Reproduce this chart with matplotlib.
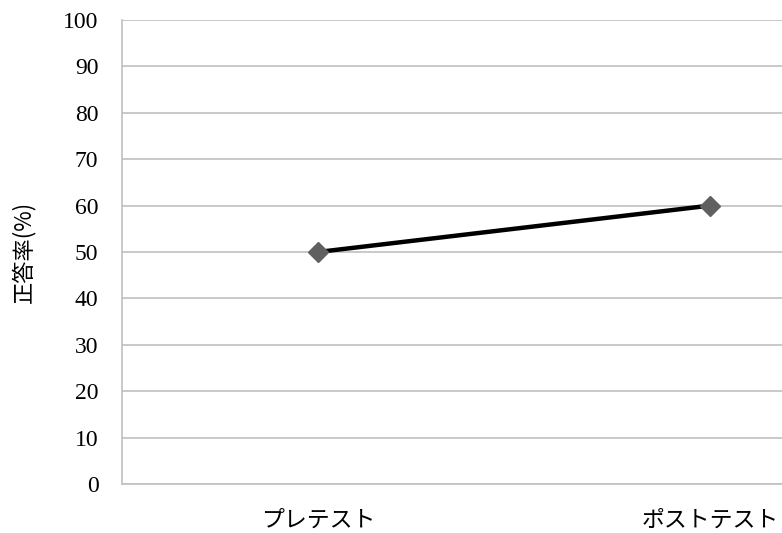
import matplotlib
matplotlib.use("Agg")
import matplotlib.pyplot as plt

# Data
categories = ["プレテスト", "ポストテスト"]
values = [50, 60]
y_ticks = [0, 10, 20, 30, 40, 50, 60, 70, 80, 90, 100]
y_label = "正答率(%)"

W, H = 782, 533
fig = plt.figure(figsize=(W / 100, H / 100), dpi=100)
fig.patch.set_facecolor("white")

# Plot area: left edge at x=122px, each category slot 392px wide (area runs past the right edge)
left, top, bottom = 122, 20, 484
slot = 392
ax = fig.add_axes([left / W, (H - bottom) / H, 2 * slot / W, (bottom - top) / H])

x = list(range(len(categories)))
ax.plot(x, values, color="black", lw=3.2, solid_capstyle="butt", zorder=3)
ax.plot(x, values, linestyle="none", marker="D", markersize=10.5,
        markerfacecolor="#606060", markeredgecolor="#606060", zorder=4)

ax.set_xlim(-0.5, 1.5)
ax.set_ylim(0, 100)
ax.set_yticks(y_ticks)
ax.set_yticklabels([str(v) for v in y_ticks], family="Liberation Serif", fontsize=17)
ax.set_xticks(x)
ax.set_xticklabels(categories, family=["Noto Sans CJK JP", "DejaVu Sans"], fontsize=16.5)

ax.tick_params(axis="y", length=0, pad=17)
ax.tick_params(axis="x", length=0, pad=18)

ax.grid(axis="y", color="#c0c0c0", lw=1.2)
ax.set_axisbelow(True)
for s in ["top", "right"]:
    ax.spines[s].set_visible(False)
for s in ["left", "bottom"]:
    ax.spines[s].set_color("#c0c0c0")
    ax.spines[s].set_linewidth(1.2)

fig.text(23 / W, (H - 252) / H, y_label, rotation=90, ha="center", va="center",
         family=["Noto Sans CJK JP", "DejaVu Sans"], fontsize=16)

fig.savefig("out.png", dpi=100)
